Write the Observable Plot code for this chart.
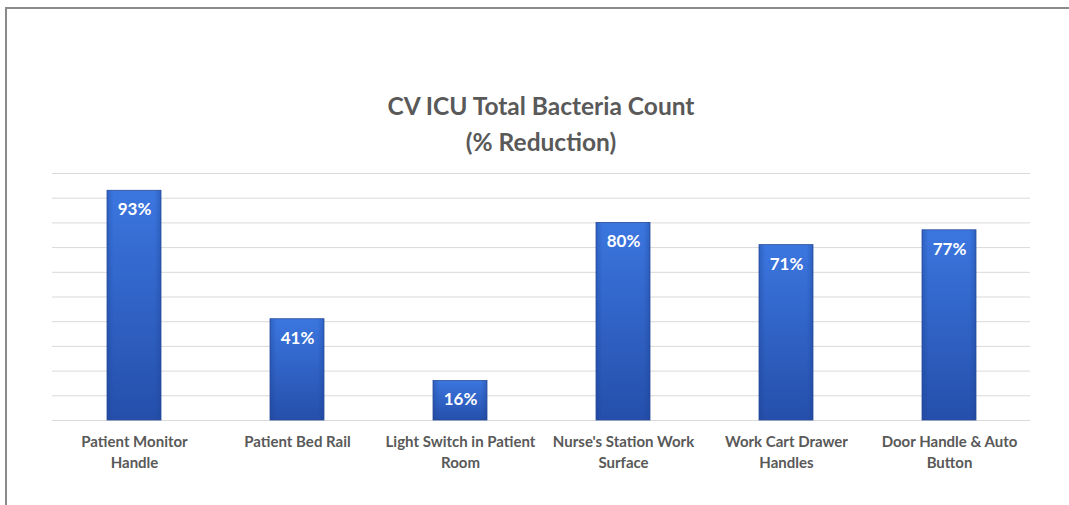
<!DOCTYPE html>
<html>
<head>
<meta charset="utf-8">
<script src="https://cdn.jsdelivr.net/npm/d3@7"></script>
<script src="https://cdn.jsdelivr.net/npm/@observablehq/plot@0.6"></script>
<style>
  html, body { margin: 0; padding: 0; background: #fff; overflow: hidden; }
  #wrap { position: relative; width: 1069px; height: 505px; overflow: hidden; background: #fff; }
  #frameL { position: absolute; left: 5px; top: 7px; width: 2px; height: 498px; background: #8a8a8a; }
  #frameT { position: absolute; left: 5px; top: 7px; width: 1064px; height: 2px; background: #8a8a8a; }
  #title { position: absolute; left: 52px; width: 978px; top: 88px; text-align: center;
           font-family: Lato, "Open Sans", sans-serif; font-weight: bold; font-size: 24.5px;
           line-height: 36px; color: #595959; }
  #chart { position: absolute; left: 0; top: 0; }
</style>
</head>
<body>
<div id="wrap">
  <div id="frameL"></div>
  <div id="frameT"></div>
  <div id="chart"></div>
  <div id="title">CV ICU Total Bacteria Count<br>(% Reduction)</div>
</div>
<script>
const categories = [
  "Patient Monitor Handle",
  "Patient Bed Rail",
  "Light Switch in Patient Room",
  "Nurse's Station Work Surface",
  "Work Cart Drawer Handles",
  "Door Handle & Auto Button"
];
const tickLabels = [
  "Patient Monitor\nHandle",
  "Patient Bed Rail",
  "Light Switch in Patient\nRoom",
  "Nurse's Station Work\nSurface",
  "Work Cart Drawer\nHandles",
  "Door Handle & Auto\nButton"
];
const values = [93, 41, 16, 80, 71, 77];
const gridTicks = [0, 10, 20, 30, 40, 50, 60, 70, 80, 90, 100];

const data = categories.map((c, i) => ({category: c, value: values[i], label: values[i] + "%"}));
const labelOf = new Map(categories.map((c, i) => [c, tickLabels[i]]));

const chart = Plot.plot({
  width: 1069,
  height: 505,
  marginTop: 173,
  marginBottom: 85,
  marginLeft: 52,
  marginRight: 39,
  style: {background: "transparent", fontFamily: "Lato, 'Open Sans', sans-serif"},
  x: {domain: categories, paddingInner: 0.67, paddingOuter: 0.335, align: 0.5, label: null, tickSize: 0},
  y: {domain: [0, 100], label: null, axis: null},
  marks: [
    Plot.ruleY(gridTicks, {stroke: "#d9d9d9", strokeWidth: 1}),
    Plot.barY(data, {x: "category", y: "value", fill: "url(#barGradV)", stroke: "#2a4c9c", strokeWidth: 0.8}),
    Plot.barY(data, {x: "category", y: "value", fill: "url(#barGradH)"}),
    Plot.text(data, {x: "category", y: "value", text: "label", dy: 19, fill: "white",
      fontWeight: "bold", fontSize: 17, lineAnchor: "middle"}),
    Plot.axisX({tickSize: 0, tickPadding: 12, fontSize: 15, fontWeight: "bold", fill: "#595959",
      tickFormat: d => labelOf.get(d), lineHeight: 1.4})
  ]
});

// gradients for the bevelled bar look
const defs = d3.select(chart).insert("defs", ":first-child");
const gv = defs.append("linearGradient").attr("id", "barGradV").attr("x1", 0).attr("y1", 0).attr("x2", 0).attr("y2", 1);
gv.append("stop").attr("offset", "0%").attr("stop-color", "#3b76df");
gv.append("stop").attr("offset", "100%").attr("stop-color", "#254fab");
const gh = defs.append("linearGradient").attr("id", "barGradH").attr("x1", 0).attr("y1", 0).attr("x2", 1).attr("y2", 0);
gh.append("stop").attr("offset", "0%").attr("stop-color", "#1a3f8f").attr("stop-opacity", 0.35);
gh.append("stop").attr("offset", "12%").attr("stop-color", "#1a3f8f").attr("stop-opacity", 0.0);
gh.append("stop").attr("offset", "88%").attr("stop-color", "#1a3f8f").attr("stop-opacity", 0.0);
gh.append("stop").attr("offset", "100%").attr("stop-color", "#1a3f8f").attr("stop-opacity", 0.35);

document.getElementById("chart").appendChild(chart);
</script>
</body>
</html>
